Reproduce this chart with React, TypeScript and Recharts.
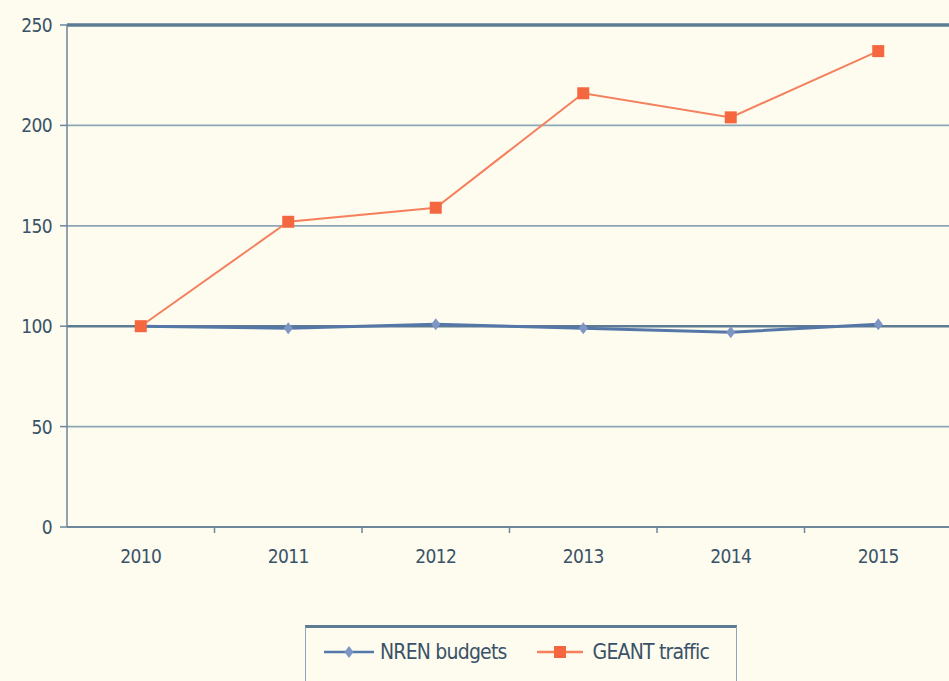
import React from "react";
import { LineChart, Line, XAxis, YAxis, CartesianGrid, ReferenceLine } from "recharts";

const years = ["2010", "2011", "2012", "2013", "2014", "2015"];
const nrenBudgets = [100, 99, 101, 99, 97, 101];
const geantTraffic = [100, 152, 159, 216, 204, 237];
const yTicks = [0, 50, 100, 150, 200, 250];
const seriesNames = ["NREN budgets", "GEANT traffic"];

const data = years.map((y, i) => ({ year: y, nren: nrenBudgets[i], geant: geantTraffic[i] }));

const W = 960;
const H = 681;
const M = { top: 25, right: 8, left: 7, bottom: 124 };
const YW = 60;
const FONT = "'DejaVu Sans Condensed', 'Liberation Sans Narrow', sans-serif";
const TEXT = "#3a5268";
const AXIS = "#6d8699";
const BLUE = "#5577a8";
const BLUE_DOT = "#7d96c6";
const ORANGE = "#f5805e";
const ORANGE_DOT = "#f4673f";

const band = (W - M.left - M.right - YW) / years.length;

const XTick = (props: any) => {
  const { x, y, payload } = props;
  return (
    <g>
      <line x1={x + band / 2} x2={x + band / 2} y1={y - 8} y2={y - 2} stroke={AXIS} strokeWidth={1.5} />
      <text x={x} y={y + 28} textAnchor="middle" fill={TEXT} fontSize={19} fontFamily={FONT} letterSpacing={-0.6}>
        {payload.value}
      </text>
    </g>
  );
};

const YTick = (props: any) => {
  const { x, y, payload } = props;
  return (
    <text x={x - 2} y={y + 7} textAnchor="end" fill={TEXT} fontSize={19} fontFamily={FONT} letterSpacing={-0.6}>
      {payload.value}
    </text>
  );
};

const Diamond = (props: any) => {
  const { cx, cy, index } = props;
  if (cx == null || cy == null) return <g key={index} />;
  const s = 6;
  return (
    <polygon
      key={index}
      points={`${cx},${cy - s} ${cx + s * 0.75},${cy} ${cx},${cy + s} ${cx - s * 0.75},${cy}`}
      fill={BLUE_DOT}
    />
  );
};

const Square = (props: any) => {
  const { cx, cy, index } = props;
  if (cx == null || cy == null) return <g key={index} />;
  const s = 12;
  return <rect key={index} x={cx - s / 2} y={cy - s / 2} width={s} height={s} fill={ORANGE_DOT} />;
};

export default function App() {
  return (
    <div
      style={{
        position: "fixed",
        left: 0,
        top: 0,
        width: 949,
        height: 681,
        overflow: "hidden",
        background: "#fdfcef",
      }}
    >
      <LineChart width={W} height={H} data={data} margin={M}>
        <CartesianGrid vertical={false} stroke="#8ea6b8" strokeWidth={1.8} />
        <ReferenceLine y={250} stroke="#5d7b92" strokeWidth={3.5} />
        <ReferenceLine y={100} stroke="#5d7b92" strokeWidth={2.5} />
        <XAxis
          dataKey="year"
          axisLine={{ stroke: AXIS, strokeWidth: 2 }}
          tickLine={false}
          tick={<XTick />}
          height={30}
          interval={0}
          padding={{ left: band / 2, right: band / 2 }}
        />
        <YAxis
          domain={[0, 250]}
          ticks={yTicks}
          width={YW}
          axisLine={{ stroke: AXIS, strokeWidth: 1.5 }}
          tickLine={{ stroke: AXIS, strokeWidth: 1.5 }}
          tickSize={7}
          tickMargin={6}
          tick={<YTick />}
        />
        <Line
          dataKey="nren"
          name={seriesNames[0]}
          stroke={BLUE}
          strokeWidth={3}
          dot={<Diamond />}
          activeDot={false}
          isAnimationActive={false}
        />
        <Line
          dataKey="geant"
          name={seriesNames[1]}
          stroke={ORANGE}
          strokeWidth={2}
          dot={<Square />}
          activeDot={false}
          isAnimationActive={false}
        />
      </LineChart>
      <div
        style={{
          position: "absolute",
          left: 305,
          top: 625,
          width: 432,
          height: 70,
          borderTop: "3px solid #5d7b92",
          borderLeft: "1.5px solid #8ea6b8",
          borderRight: "1.5px solid #8ea6b8",
          boxSizing: "border-box",
          display: "flex",
          alignItems: "flex-start",
          paddingTop: 12,
          paddingLeft: 18,
          fontFamily: FONT,
          fontSize: 21,
          color: TEXT,
        }}
      >
        <svg width={50} height={24} style={{ marginRight: 6 }}>
          <line x1={0} x2={50} y1={12} y2={12} stroke={BLUE} strokeWidth={2.5} />
          <polygon points="25,6 29.5,12 25,18 20.5,12" fill={BLUE_DOT} />
        </svg>
        <span style={{ marginRight: 30, letterSpacing: -0.8 }}>{seriesNames[0]}</span>
        <svg width={46} height={24} style={{ marginRight: 10 }}>
          <line x1={0} x2={46} y1={12} y2={12} stroke={ORANGE} strokeWidth={2.5} />
          <rect x={17} y={6} width={12} height={12} fill={ORANGE_DOT} />
        </svg>
        <span style={{ letterSpacing: -0.8 }}>{seriesNames[1]}</span>
      </div>
    </div>
  );
}
